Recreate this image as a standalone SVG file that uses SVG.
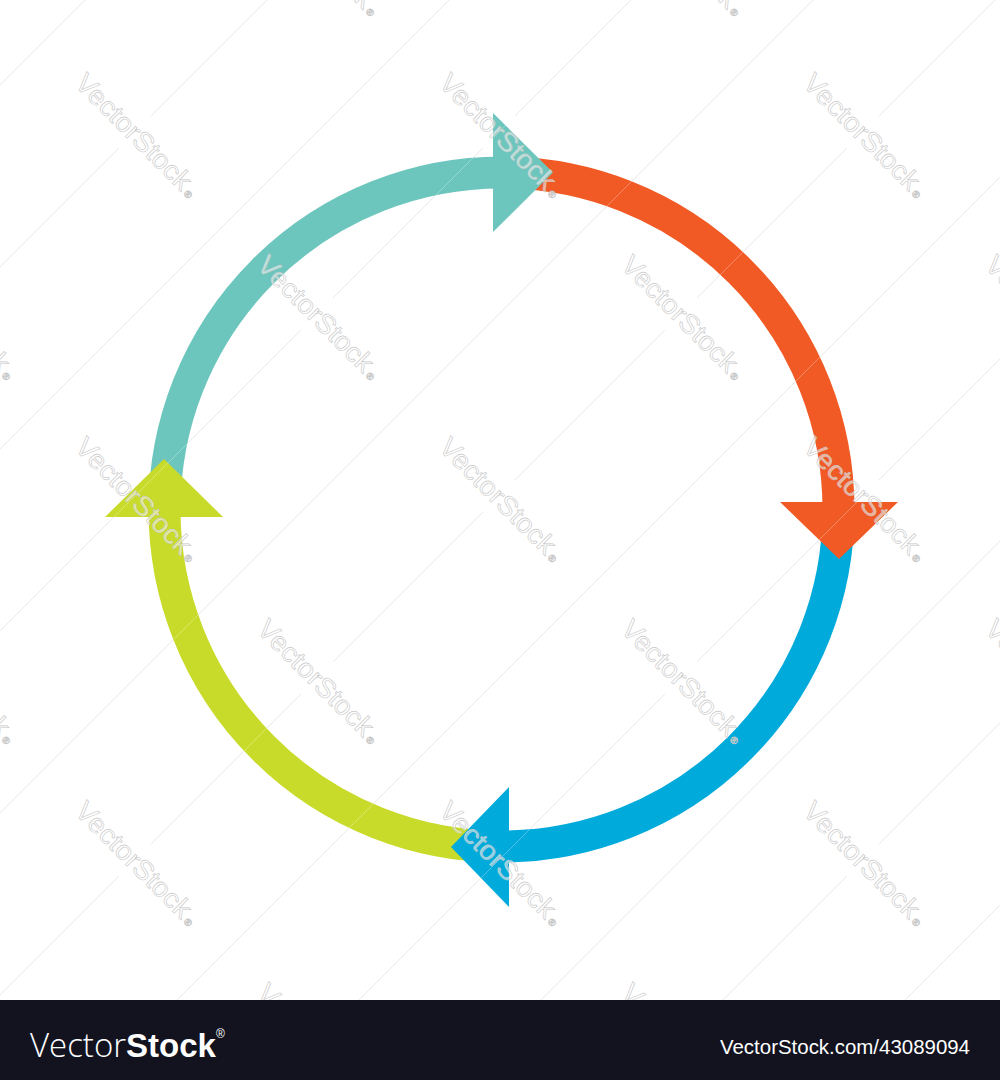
<svg xmlns="http://www.w3.org/2000/svg" xmlns:xlink="http://www.w3.org/1999/xlink" width="1000" height="1080" viewBox="0 0 1000 1080">
  <style>
    .arc { fill: none; stroke-width: 32; stroke-linecap: butt; }
    .teal { stroke: #6cc6bd; } .teal-f { fill: #6cc6bd; }
    .orange { stroke: #f15a24; } .orange-f { fill: #f15a24; }
    .blue { stroke: #00abdc; } .blue-f { fill: #00abdc; }
    .green { stroke: #c9db2a; } .green-f { fill: #c9db2a; }
    .grid { fill: none; stroke: #e0e0e0; stroke-width: 1; }
    .grid-over { fill: none; stroke: #ffffff; stroke-opacity: 0.3; stroke-width: 1; }
    .wm text { font-family: "Liberation Sans", Arial, sans-serif; fill: #ffffff; fill-opacity: 0.55; stroke: #c6c6c6; stroke-width: 0.6; }
    .bar-text { font-family: "Liberation Sans", Arial, sans-serif; fill: #ffffff; }
  </style>
  <defs>
    <path id="gridlines" d="M-100 185 L1100 -1015 M-100 367 L1100 -833 M-100 549 L1100 -651 M-100 731 L1100 -469 M-100 913 L1100 -287 M-100 1095 L1100 -105 M-100 1277 L1100 77 M-100 1459 L1100 259 M-100 1641 L1100 441 M-100 1823 L1100 623 M-100 2005 L1100 805"/>
    <rect id="gap" x="-16" y="-23" width="32" height="46" fill="#ffffff"/>
    <g id="wmk" class="wm">
      <text x="-77" y="10" font-size="27" textLength="152" lengthAdjust="spacingAndGlyphs">VectorStock</text>
      <text x="78" y="10" font-size="10">®</text>
    </g>
  </defs>

  <rect x="0" y="0" width="1000" height="1080" fill="#ffffff"/>

  <!-- background watermark lines -->
  <use xlink:href="#gridlines" class="grid"/>
  <g id="gaps">
    <use xlink:href="#gap" transform="translate(317,-50) rotate(45)"/>
    <use xlink:href="#gap" transform="translate(681,-50) rotate(45)"/>
    <use xlink:href="#gap" transform="translate(135,132) rotate(45)"/>
    <use xlink:href="#gap" transform="translate(499,132) rotate(45)"/>
    <use xlink:href="#gap" transform="translate(863,132) rotate(45)"/>
    <use xlink:href="#gap" transform="translate(-47,314) rotate(45)"/>
    <use xlink:href="#gap" transform="translate(317,314) rotate(45)"/>
    <use xlink:href="#gap" transform="translate(681,314) rotate(45)"/>
    <use xlink:href="#gap" transform="translate(1045,314) rotate(45)"/>
    <use xlink:href="#gap" transform="translate(135,496) rotate(45)"/>
    <use xlink:href="#gap" transform="translate(499,496) rotate(45)"/>
    <use xlink:href="#gap" transform="translate(863,496) rotate(45)"/>
    <use xlink:href="#gap" transform="translate(-47,678) rotate(45)"/>
    <use xlink:href="#gap" transform="translate(317,678) rotate(45)"/>
    <use xlink:href="#gap" transform="translate(681,678) rotate(45)"/>
    <use xlink:href="#gap" transform="translate(1045,678) rotate(45)"/>
    <use xlink:href="#gap" transform="translate(135,860) rotate(45)"/>
    <use xlink:href="#gap" transform="translate(499,860) rotate(45)"/>
    <use xlink:href="#gap" transform="translate(863,860) rotate(45)"/>
  </g>

  <!-- connectors: the four arc bodies -->
  <g id="connectors">
    <path class="arc teal" d="M164.5 509.5 A337 337 0 0 1 501.5 172.5"/>
    <path class="arc orange" d="M501.5 172.5 A337 337 0 0 1 838.5 509.5"/>
    <path class="arc blue" d="M838.5 509.5 A337 337 0 0 1 501.5 846.5"/>
    <path class="arc green" d="M501.5 846.5 A337 337 0 0 1 164.5 509.5"/>
  </g>

  <!-- arrow heads -->
  <g id="head-teal"><polygon class="teal-f" points="493,113 493,232 553,172.5"/></g>
  <g id="head-orange"><polygon class="orange-f" points="780,502 898,502 839,559"/></g>
  <g id="head-blue"><polygon class="blue-f" points="509,787 509,907 451,847"/></g>
  <g id="head-green"><polygon class="green-f" points="105,517 223,517 164,459"/></g>

  <!-- watermark overlay -->
  <use xlink:href="#gridlines" class="grid-over"/>
  <g id="watermarks">
    <use xlink:href="#wmk" transform="translate(317,-50) rotate(45)"/>
    <use xlink:href="#wmk" transform="translate(681,-50) rotate(45)"/>
    <use xlink:href="#wmk" transform="translate(135,132) rotate(45)"/>
    <use xlink:href="#wmk" transform="translate(499,132) rotate(45)"/>
    <use xlink:href="#wmk" transform="translate(863,132) rotate(45)"/>
    <use xlink:href="#wmk" transform="translate(-47,314) rotate(45)"/>
    <use xlink:href="#wmk" transform="translate(317,314) rotate(45)"/>
    <use xlink:href="#wmk" transform="translate(681,314) rotate(45)"/>
    <use xlink:href="#wmk" transform="translate(1045,314) rotate(45)"/>
    <use xlink:href="#wmk" transform="translate(135,496) rotate(45)"/>
    <use xlink:href="#wmk" transform="translate(499,496) rotate(45)"/>
    <use xlink:href="#wmk" transform="translate(863,496) rotate(45)"/>
    <use xlink:href="#wmk" transform="translate(-47,678) rotate(45)"/>
    <use xlink:href="#wmk" transform="translate(317,678) rotate(45)"/>
    <use xlink:href="#wmk" transform="translate(681,678) rotate(45)"/>
    <use xlink:href="#wmk" transform="translate(1045,678) rotate(45)"/>
    <use xlink:href="#wmk" transform="translate(135,860) rotate(45)"/>
    <use xlink:href="#wmk" transform="translate(499,860) rotate(45)"/>
    <use xlink:href="#wmk" transform="translate(863,860) rotate(45)"/>
    <use xlink:href="#wmk" transform="translate(317,1042) rotate(45)"/>
    <use xlink:href="#wmk" transform="translate(681,1042) rotate(45)"/>
  </g>

  <!-- bottom bar -->
  <g id="footer">
    <rect x="0" y="1000" width="1000" height="80" fill="#12131f"/>
    <text class="bar-text" x="30" y="1057" font-size="33"><tspan font-family="'Open Sans', 'Liberation Sans', sans-serif" font-weight="300">Vector</tspan><tspan font-weight="bold">Stock</tspan><tspan font-size="12" dy="-19">®</tspan></text>
    <text class="bar-text" x="720" y="1054" font-size="20" textLength="250" lengthAdjust="spacingAndGlyphs">VectorStock.com/43089094</text>
  </g>
</svg>
